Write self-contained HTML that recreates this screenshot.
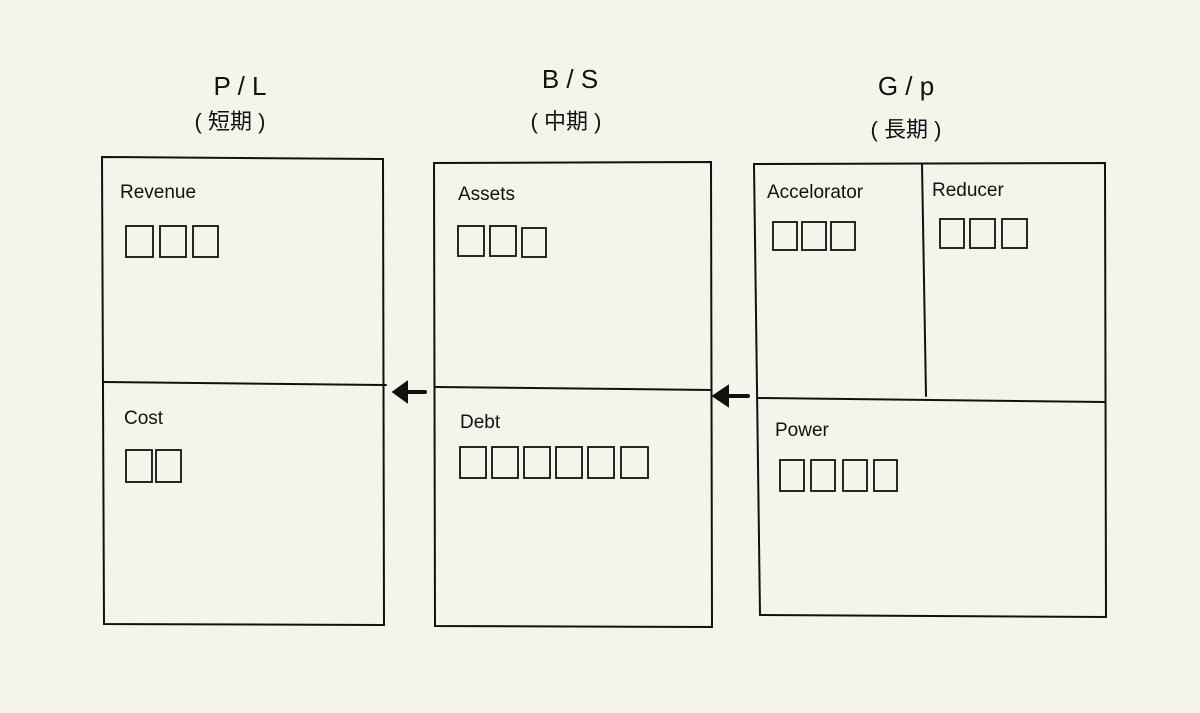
<!DOCTYPE html>
<html><head><meta charset="utf-8"><style>
html,body{margin:0;padding:0;background:#f5f4eb;}
svg{display:block}
text{font-family:"Liberation Sans","Noto Sans CJK JP",sans-serif;fill:#111}
</style></head><body>
<svg width="1200" height="713" viewBox="0 0 1200 713" xmlns="http://www.w3.org/2000/svg">
<rect width="1200" height="713" fill="#f5f4eb"/>
<g stroke="#111" stroke-width="2" fill="none" stroke-linecap="round">
<!-- box1 -->
<path d="M102 157 L383 159 L384 625 L104 624 Z"/>
<path d="M104 382 L386 385"/>
<!-- box2 -->
<path d="M434 163 L711 162 L712 627 L435 626 Z"/>
<path d="M435 387 L711 390"/>
<!-- box3 -->
<path d="M754 164 L1105 163 L1106 617 L760 615 Z"/>
<path d="M922 164 L926 396"/>
<path d="M757 398 L1105 402"/>
<!-- squares -->
<g stroke-width="1.8">
<rect x="126" y="226" width="27" height="31"/><rect x="160" y="226" width="26" height="31"/><rect x="193" y="226" width="25" height="31"/>
<rect x="126" y="450" width="26" height="32"/><rect x="156" y="450" width="25" height="32"/>
<rect x="458" y="226" width="26" height="30"/><rect x="490" y="226" width="26" height="30"/><rect x="522" y="228" width="24" height="29"/>
<rect x="460" y="447" width="26" height="31"/><rect x="492" y="447" width="26" height="31"/><rect x="524" y="447" width="26" height="31"/><rect x="556" y="447" width="26" height="31"/><rect x="588" y="447" width="26" height="31"/><rect x="621" y="447" width="27" height="31"/>
<rect x="773" y="222" width="24" height="28"/><rect x="802" y="222" width="24" height="28"/><rect x="831" y="222" width="24" height="28"/>
<rect x="940" y="219" width="24" height="29"/><rect x="970" y="219" width="25" height="29"/><rect x="1002" y="219" width="25" height="29"/>
<rect x="780" y="460" width="24" height="31"/><rect x="811" y="460" width="24" height="31"/><rect x="843" y="460" width="24" height="31"/><rect x="874" y="460" width="23" height="31"/>
</g>
</g>
<!-- arrows -->
<g stroke="#111" stroke-width="4" fill="#111" stroke-linecap="round">
<path d="M425 392 L404 392"/><path d="M395 392 L406 384 L406 400 Z"/>
<path d="M748 396 L725 396"/><path d="M715 396 L727 388 L727 404 Z"/>
</g>
<g font-size="26" text-anchor="middle">
<text x="240" y="95">P / L</text>
<text x="570" y="88">B / S</text>
<text x="906" y="95">G / p</text>
</g>
<g font-size="22" text-anchor="middle">
<text x="230" y="129">( 短期 )</text>
<text x="566" y="129">( 中期 )</text>
<text x="906" y="137">( 長期 )</text>
</g>
<g font-size="19">
<text x="120" y="198">Revenue</text>
<text x="124" y="424">Cost</text>
<text x="458" y="200">Assets</text>
<text x="460" y="428">Debt</text>
<text x="767" y="198">Accelorator</text>
<text x="932" y="196">Reducer</text>
<text x="775" y="436">Power</text>
</g>
</svg>
</body></html>
